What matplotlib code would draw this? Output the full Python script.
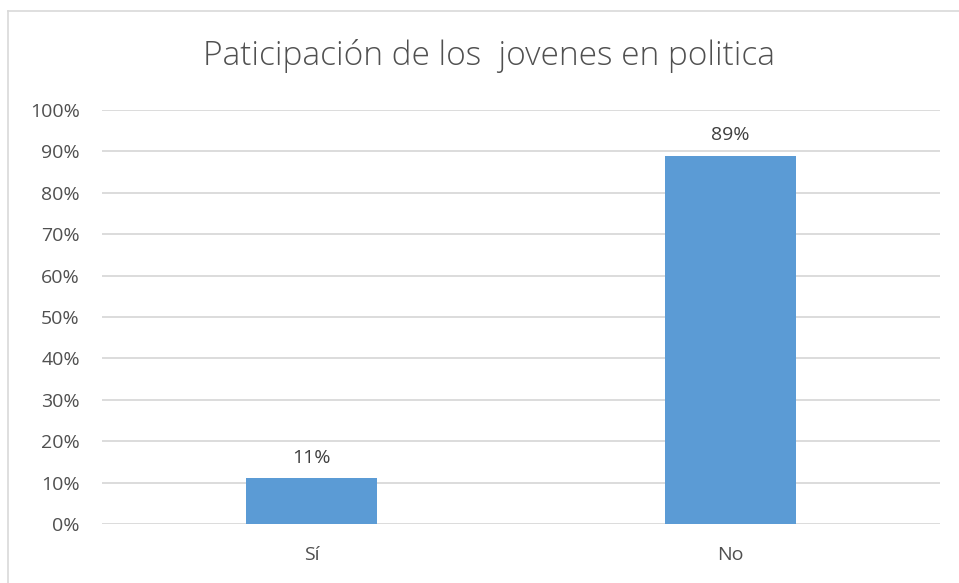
import matplotlib
matplotlib.use("Agg")
import matplotlib.pyplot as plt
from matplotlib.lines import Line2D

categories = ["Sí", "No"]
values = [0.11, 0.89]
labels = ["11%", "89%"]
yticks = [0, 0.1, 0.2, 0.3, 0.4, 0.5, 0.6, 0.7, 0.8, 0.9, 1.0]
ytick_labels = ["0%", "10%", "20%", "30%", "40%", "50%", "60%", "70%", "80%", "90%", "100%"]
title = "Paticipación de los  jovenes en politica"

plt.rcParams['font.family'] = ['Open Sans', 'DejaVu Sans']
W, H = 959, 583
fig = plt.figure(figsize=(W/100, H/100), dpi=100)
ax = fig.add_axes([102/W, 1-524/H, (940-102)/W, (524-110)/H])

x = list(range(len(categories)))
ax.bar(x, values, width=0.313, color="#5B9BD5", zorder=3)
for xi, v, lab in zip(x, values, labels):
    ax.text(xi, v + 0.027, lab, ha="center", va="bottom", fontsize=14, color="#404040")

ax.set_xlim(-0.5, 1.5)
ax.set_ylim(0, 1.0)
ax.set_yticks(yticks)
ax.set_yticklabels(ytick_labels, fontsize=14, color="#505050")
ax.set_xticks(x)
ax.set_xticklabels(categories, fontsize=14, color="#505050")
ax.tick_params(axis="both", length=0)
ax.tick_params(axis="y", pad=16)
ax.tick_params(axis="x", pad=16)
ax.grid(axis="y", color="#d9d9d9", linewidth=1.3, zorder=0)
for s in ax.spines.values():
    s.set_visible(False)

fig.text(489/W, 1-56/H, title, ha="center", va="center", fontsize=24, color="#505050", fontweight="light")

fig.add_artist(Line2D([8/W, 1.0], [1-10.5/H, 1-10.5/H], color="#d9d9d9", linewidth=1.2, transform=fig.transFigure))
fig.add_artist(Line2D([8/W, 8/W], [0, 1-10.5/H], color="#d9d9d9", linewidth=1.2, transform=fig.transFigure))

fig.savefig("out.png", dpi=100)
